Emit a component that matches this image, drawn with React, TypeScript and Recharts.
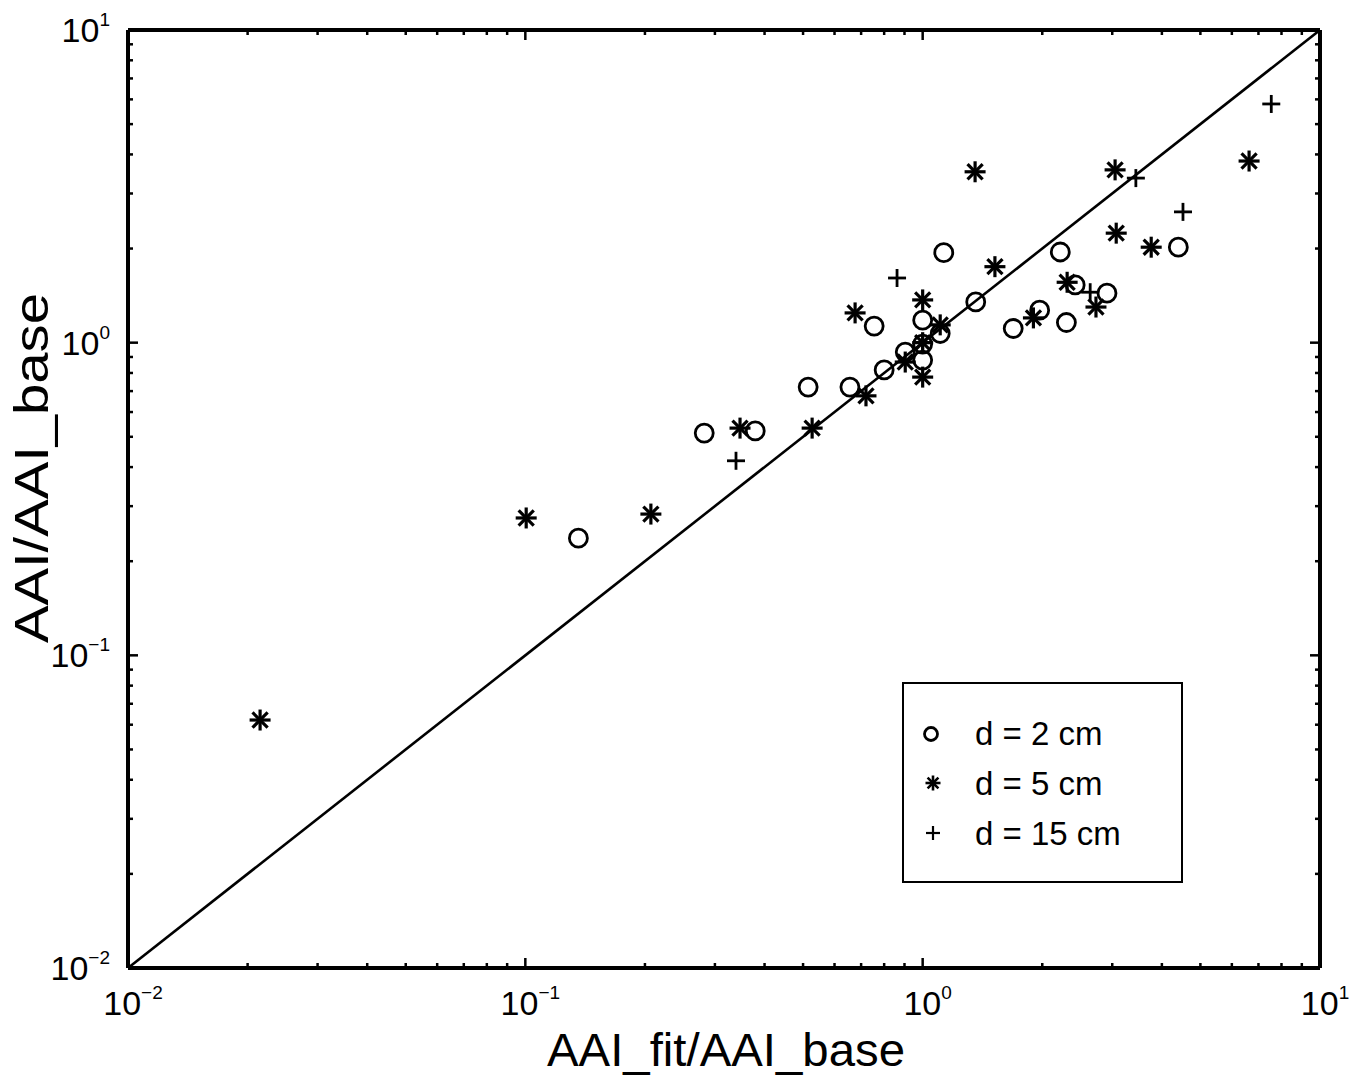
import React from 'react';
import { ScatterChart, Scatter, XAxis, YAxis, ReferenceLine, Customized } from 'recharts';

// d = 2 cm (circles)
const circles2cm = [
  { x: 0.136, y: 0.237 }, { x: 0.282, y: 0.514 }, { x: 0.379, y: 0.522 },
  { x: 0.515, y: 0.721 }, { x: 0.656, y: 0.721 }, { x: 0.755, y: 1.13 },
  { x: 0.8, y: 0.818 }, { x: 0.904, y: 0.933 }, { x: 1.0, y: 1.18 },
  { x: 1.0, y: 0.88 }, { x: 1.0, y: 0.99 }, { x: 1.107, y: 1.07 },
  { x: 1.13, y: 1.94 }, { x: 1.36, y: 1.35 }, { x: 1.69, y: 1.11 },
  { x: 1.97, y: 1.27 }, { x: 2.22, y: 1.95 }, { x: 2.3, y: 1.16 },
  { x: 2.42, y: 1.53 }, { x: 2.91, y: 1.44 }, { x: 4.4, y: 2.02 },
];

// d = 5 cm (asterisks)
const stars5cm = [
  { x: 0.0215, y: 0.0621 }, { x: 0.1005, y: 0.275 }, { x: 0.207, y: 0.283 },
  { x: 0.347, y: 0.533 }, { x: 0.527, y: 0.533 }, { x: 0.676, y: 1.245 },
  { x: 0.72, y: 0.676 }, { x: 0.904, y: 0.867 }, { x: 1.0, y: 1.37 },
  { x: 1.0, y: 0.776 }, { x: 1.0, y: 1.0 }, { x: 1.107, y: 1.14 },
  { x: 1.355, y: 3.52 }, { x: 1.52, y: 1.75 }, { x: 1.9, y: 1.2 },
  { x: 2.31, y: 1.56 }, { x: 2.73, y: 1.3 }, { x: 3.05, y: 3.57 },
  { x: 3.07, y: 2.24 }, { x: 3.76, y: 2.02 }, { x: 6.63, y: 3.81 },
];

// d = 15 cm (plus signs)
const plus15cm = [
  { x: 0.339, y: 0.419 }, { x: 0.862, y: 1.61 }, { x: 1.0, y: 1.0 },
  { x: 2.64, y: 1.45 }, { x: 3.44, y: 3.36 }, { x: 4.52, y: 2.62 },
  { x: 7.54, y: 5.8 },
];

const identityLine = [{ x: 0.01, y: 0.01 }, { x: 10, y: 10 }];

const majorTicks = [0.01, 0.1, 1, 10];
const tickExponents = ['\u22122', '\u22121', '0', '1'];
const allTicks = [
  0.01, 0.02, 0.03, 0.04, 0.05, 0.06, 0.07, 0.08, 0.09,
  0.1, 0.2, 0.3, 0.4, 0.5, 0.6, 0.7, 0.8, 0.9,
  1, 2, 3, 4, 5, 6, 7, 8, 9, 10,
];

const legendLabels = ['d = 2 cm', 'd = 5 cm', 'd = 15 cm'];

const FONT = '"Liberation Sans", Arial, Helvetica, sans-serif';
const MAJOR = 10;
const MINOR = 5;

const Circle = ({ cx, cy, r = 9 }: any) => (
  <circle cx={cx} cy={cy} r={r} fill="none" stroke="#000" strokeWidth={2.8} />
);

const Star = ({ cx, cy, s = 10.5, w = 3.2 }: any) => {
  const d = s * 0.72;
  return (
    <g stroke="#000" strokeWidth={w}>
      <line x1={cx - s} y1={cy} x2={cx + s} y2={cy} />
      <line x1={cx} y1={cy - s} x2={cx} y2={cy + s} />
      <line x1={cx - d} y1={cy - d} x2={cx + d} y2={cy + d} />
      <line x1={cx - d} y1={cy + d} x2={cx + d} y2={cy - d} />
    </g>
  );
};

const Plus = ({ cx, cy, s = 9, w = 2.8 }: any) => (
  <g stroke="#000" strokeWidth={w}>
    <line x1={cx - s} y1={cy} x2={cx + s} y2={cy} />
    <line x1={cx} y1={cy - s} x2={cx} y2={cy + s} />
  </g>
);

const Pow = ({ x, y, exp, anchor }: any) => (
  <text x={x} y={y} textAnchor={anchor} fontFamily={FONT} fontSize={34} fill="#000">
    10<tspan dy={-16} fontSize={19}>{exp}</tspan>
  </text>
);

const isMajor = (v: number) => majorTicks.indexOf(v) >= 0;

const BottomTick = ({ x, y, payload }: any) => {
  const v = payload.value;
  const len = isMajor(v) ? MAJOR : MINOR;
  return (
    <g>
      <line x1={x} x2={x} y1={y} y2={y - len} stroke="#000" strokeWidth={2.5} />
      {isMajor(v) && <Pow x={x + 5} y={y + 47} exp={tickExponents[majorTicks.indexOf(v)]} anchor="middle" />}
    </g>
  );
};

const TopTick = ({ x, y, payload }: any) => {
  const len = isMajor(payload.value) ? MAJOR : MINOR;
  return <line x1={x} x2={x} y1={y} y2={y + len} stroke="#000" strokeWidth={2.5} />;
};

const LeftTick = ({ x, y, payload }: any) => {
  const v = payload.value;
  const len = isMajor(v) ? MAJOR : MINOR;
  return (
    <g>
      <line x1={x} x2={x + len} y1={y} y2={y} stroke="#000" strokeWidth={2.5} />
      {isMajor(v) && <Pow x={x - 18} y={y + 12} exp={tickExponents[majorTicks.indexOf(v)]} anchor="end" />}
    </g>
  );
};

const RightTick = ({ x, y, payload }: any) => {
  const len = isMajor(payload.value) ? MAJOR : MINOR;
  return <line x1={x} x2={x - len} y1={y} y2={y} stroke="#000" strokeWidth={2.5} />;
};

const Decorations = () => (
  <g fontFamily={FONT} fill="#000">
    <text x={726} y={1066} textAnchor="middle" fontSize={46} textLength={358} lengthAdjust="spacingAndGlyphs">
      AAI_fit/AAI_base
    </text>
    <text
      x={0}
      y={0}
      transform="translate(48 468) rotate(-90)"
      textAnchor="middle"
      fontSize={48}
      textLength={350}
      lengthAdjust="spacingAndGlyphs"
    >
      AAI/AAI_base
    </text>
    <rect x={903} y={683} width={279} height={199} fill="#fff" stroke="#000" strokeWidth={2} />
    <Circle cx={931} cy={734} r={6.5} />
    <Star cx={933} cy={783} s={7.5} w={2.6} />
    <Plus cx={933} cy={833} s={7} w={2.2} />
    {legendLabels.map((t, i) => (
      <text key={t} x={975} y={745 + i * 50} fontSize={33}>{t}</text>
    ))}
  </g>
);

const axisProps = {
  scale: 'log' as const,
  domain: [0.01, 10],
  type: 'number' as const,
  ticks: allTicks,
  interval: 0 as const,
  allowDataOverflow: true,
  tickSize: 0,
  tickMargin: 0,
  tickLine: false,
  axisLine: { stroke: '#000', strokeWidth: 4 },
};

const App: React.FC = () => {
  return (
    <div style={{ position: 'absolute', left: 0, top: 0, background: '#fff' }}>
      <ScatterChart width={1356} height={1082} margin={{ top: 0, right: 0, bottom: 0, left: 0 }}>
        <XAxis dataKey="x" xAxisId={0} orientation="bottom" height={114} tick={<BottomTick />} {...axisProps} />
        <XAxis dataKey="x" xAxisId="top" orientation="top" height={30} tick={<TopTick />} {...axisProps} />
        <YAxis dataKey="y" yAxisId={0} orientation="left" width={128} tick={<LeftTick />} {...axisProps} />
        <YAxis dataKey="y" yAxisId="right" orientation="right" width={36} tick={<RightTick />} {...axisProps} />
        <ReferenceLine segment={identityLine} stroke="#000" strokeWidth={2.6} ifOverflow="visible" />
        <Scatter data={circles2cm} shape={<Circle />} isAnimationActive={false} />
        <Scatter data={stars5cm} shape={<Star />} isAnimationActive={false} />
        <Scatter data={plus15cm} shape={<Plus />} isAnimationActive={false} />
        <Customized component={<Decorations />} />
      </ScatterChart>
    </div>
  );
};

export default App;
